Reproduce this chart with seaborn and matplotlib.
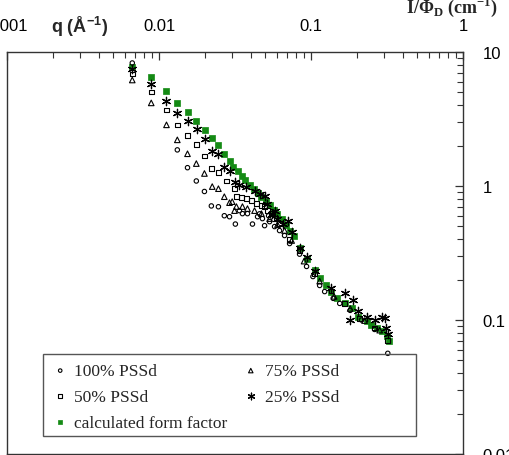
import matplotlib
matplotlib.use("Agg")
import matplotlib.pyplot as plt
from matplotlib.markers import MarkerStyle
from matplotlib.patches import Rectangle
import seaborn as sns
import pandas as pd

# scattering data: q (1/A) and I/Phi_D (1/cm)
q_100 = [0.00667, 0.0132, 0.0154, 0.0176, 0.0199, 0.0221, 0.0246, 0.0269, 0.0291, 0.0318,
         0.0338, 0.0354, 0.0382, 0.0412, 0.0445, 0.0459, 0.0479, 0.0495, 0.0526, 0.0534,
         0.0576, 0.0621, 0.067, 0.0723, 0.0841, 0.0935, 0.103, 0.114, 0.123, 0.14,
         0.1545, 0.181, 0.215, 0.262, 0.320]
I_100 = [8.28, 1.86, 1.37, 1.09, 0.91, 0.71, 0.70, 0.60, 0.59, 0.52,
         0.655, 0.622, 0.622, 0.52, 0.59, 0.62, 0.571, 0.506, 0.60, 0.542,
         0.498, 0.465, 0.427, 0.372, 0.31, 0.251, 0.211, 0.181, 0.163, 0.145,
         0.133, 0.118, 0.10, 0.085, 0.0564]

q_75 = [0.00667, 0.00889, 0.0112, 0.0132, 0.0154, 0.0176, 0.0199, 0.0224, 0.0246, 0.0269,
        0.0291, 0.0303, 0.0314, 0.0323, 0.0354, 0.0382, 0.0425, 0.0472, 0.0534, 0.0602,
        0.067, 0.0746, 0.090, 0.114, 0.142, 0.181, 0.225, 0.283]
I_75 = [6.18, 4.17, 2.86, 2.21, 1.74, 1.47, 1.24, 0.99, 0.955, 0.832,
        0.751, 0.764, 0.655, 0.702, 0.702, 0.678, 0.655, 0.622, 0.571, 0.515,
        0.465, 0.392, 0.275, 0.195, 0.15, 0.122, 0.099, 0.084]

q_50 = [0.00667, 0.00889, 0.0112, 0.0132, 0.0154, 0.0176, 0.0199, 0.0221, 0.0246, 0.0278,
        0.0314, 0.0323, 0.0349, 0.0376, 0.0406, 0.0438, 0.0472, 0.0495, 0.0517, 0.0551,
        0.059, 0.0621, 0.0723, 0.0841, 0.1056, 0.135, 0.1667, 0.209, 0.262, 0.32]
I_50 = [6.86, 5.04, 3.70, 2.86, 2.37, 2.03, 1.68, 1.35, 1.26, 1.09,
        0.955, 0.832, 0.818, 0.804, 0.778, 0.738, 0.713, 0.702, 0.655, 0.622,
        0.571, 0.524, 0.40, 0.33, 0.22, 0.165, 0.133, 0.103, 0.087, 0.0706]

q_25 = [0.00667, 0.00889, 0.0112, 0.0132, 0.0156, 0.0178, 0.0201, 0.0224, 0.0246, 0.0269,
        0.0291, 0.0314, 0.0338, 0.0376, 0.0425, 0.0459, 0.0495, 0.0517, 0.0551, 0.0576,
        0.0602, 0.065, 0.0701, 0.0746, 0.0841, 0.0948, 0.1056, 0.1364, 0.1667, 0.188,
        0.181, 0.203, 0.233, 0.262, 0.292, 0.306, 0.313, 0.323]
I_25 = [7.47, 5.78, 4.32, 3.51, 3.06, 2.67, 2.25, 1.83, 1.74, 1.39,
        1.30, 1.08, 1.02, 0.99, 0.923, 0.87, 0.847, 0.738, 0.622, 0.655,
        0.571, 0.524, 0.552, 0.457, 0.347, 0.297, 0.234, 0.172, 0.16, 0.140,
        0.0993, 0.117, 0.106, 0.0993, 0.106, 0.103, 0.0866, 0.078]

q_ff = [0.00667, 0.00889, 0.0112, 0.0132, 0.0154, 0.0176, 0.0201, 0.0224, 0.0246, 0.0269,
        0.0291, 0.0309, 0.0331, 0.0349, 0.037, 0.0394, 0.042, 0.0445, 0.0472, 0.0502,
        0.0534, 0.0568, 0.0602, 0.0642, 0.0685, 0.0723, 0.077, 0.0841, 0.0948, 0.1056,
        0.114, 0.125, 0.136, 0.148, 0.1667, 0.185, 0.203, 0.233, 0.25, 0.27,
        0.292, 0.316, 0.326]
I_ff = [7.73, 6.51, 5.13, 4.17, 3.57, 3.06, 2.63, 2.29, 2.03, 1.74,
        1.54, 1.39, 1.30, 1.19, 1.11, 1.02, 0.955, 0.89, 0.832, 0.778,
        0.726, 0.667, 0.622, 0.571, 0.515, 0.465, 0.427, 0.347, 0.287, 0.238,
        0.207, 0.184, 0.163, 0.145, 0.133, 0.122, 0.106, 0.0977, 0.091, 0.0866,
        0.0822, 0.0755, 0.0693]

x_ticks = [0.001, 0.01, 0.1, 1]
x_labels = ["0.001", "0.01", "0.1", "1"]
y_ticks = [0.01, 0.1, 1, 10]
y_labels = ["0.01", "0.1", "1", "10"]

sns.set_theme(style="ticks")
plt.rcParams["font.family"] = ["Liberation Sans", "DejaVu Sans"]
plt.rcParams["mathtext.fontset"] = "custom"
plt.rcParams["mathtext.rm"] = "Liberation Serif"
plt.rcParams["mathtext.bf"] = "Liberation Serif:bold"
plt.rcParams["mathtext.sf"] = "Liberation Sans:bold"

fig = plt.figure(figsize=(5.1, 4.56), dpi=100)
ax = fig.add_axes([7 / 510, 1 / 456, 456 / 510, 402 / 456])

green = "#148a14"
# form factor first so the measured points sit on top of it
sns.scatterplot(x=q_ff, y=I_ff, marker="s", s=16, color=green, edgecolor=green,
                linewidth=0.5, label="calculated form factor", ax=ax)

open_o = MarkerStyle("o", fillstyle="none")
open_t = MarkerStyle("^", fillstyle="none")
open_s = MarkerStyle("s", fillstyle="none")
star = MarkerStyle((6, 2, 0))

sns.scatterplot(x=q_100, y=I_100, marker=open_o, s=10, color="black", linewidth=0.8,
                label="100% PSSd", ax=ax)
sns.scatterplot(x=q_75, y=I_75, marker=open_t, s=16, color="black", linewidth=0.8,
                label="75% PSSd", ax=ax)
sns.scatterplot(x=q_50, y=I_50, marker=open_s, s=11, color="black", linewidth=0.8,
                label="50% PSSd", ax=ax)
sns.scatterplot(x=q_25, y=I_25, marker=star, s=36, color="black", linewidth=0.9,
                label="25% PSSd", ax=ax)

ax.set_xscale("log")
ax.set_yscale("log")
ax.set_xlim(0.001, 1)
ax.set_ylim(0.01, 10)
ax.set_xticks(x_ticks, x_labels)
ax.set_yticks(y_ticks, y_labels)

for side in ["top", "bottom", "left", "right"]:
    ax.spines[side].set_visible(True)
    ax.spines[side].set_color("#333333")
    ax.spines[side].set_linewidth(1.0)

ax.tick_params(axis="x", which="both", direction="in", top=True, bottom=False,
               labeltop=True, labelbottom=False, colors="#333333", labelcolor="black")
ax.tick_params(axis="y", which="both", direction="in", right=True, left=False,
               labelright=True, labelleft=False, colors="#333333", labelcolor="black")
ax.tick_params(which="major", length=6, width=0.9, labelsize=12, pad=14)
ax.tick_params(which="minor", length=4, width=0.8)
ax.set_xlabel("")
ax.set_ylabel("")

# axis titles sit in the tick label rows
fig.text(80 / 510, 1 - 27 / 456, r"q (Å$^{\mathsf{-1}}$)", fontsize=13, fontweight="bold",
         ha="center", va="center")
fig.text(452 / 510, 1 - 7 / 456, r"I/Φ$_{\mathbf{D}}$ (cm$^{\mathbf{-1}}$)",
         family=["Liberation Serif", "DejaVu Serif"], fontsize=13, fontweight="bold",
         ha="center", va="center")

handles, labels = ax.get_legend_handles_labels()
lookup = dict(zip(labels, handles))
order = ["100% PSSd", "50% PSSd", "calculated form factor", "75% PSSd", "25% PSSd"]
leg = ax.legend([lookup[k] for k in order], order, ncol=2, loc="upper left",
                bbox_to_anchor=((55 - 7) / 456, (455 - 364) / 402), frameon=False,
                borderpad=0, borderaxespad=0, handlelength=0.6, handletextpad=0.5,
                columnspacing=1.05, labelspacing=0.55, markerscale=0.8,
                prop={"family": "Liberation Serif", "size": 12.5})
ax.add_patch(Rectangle(((43 - 7) / 456, (455 - 437) / 402), (416 - 43) / 456,
                       (437 - 355) / 402, transform=ax.transAxes, fill=False,
                       edgecolor="#555555", linewidth=1.0, zorder=5))

fig.savefig("out.png", dpi=100)
